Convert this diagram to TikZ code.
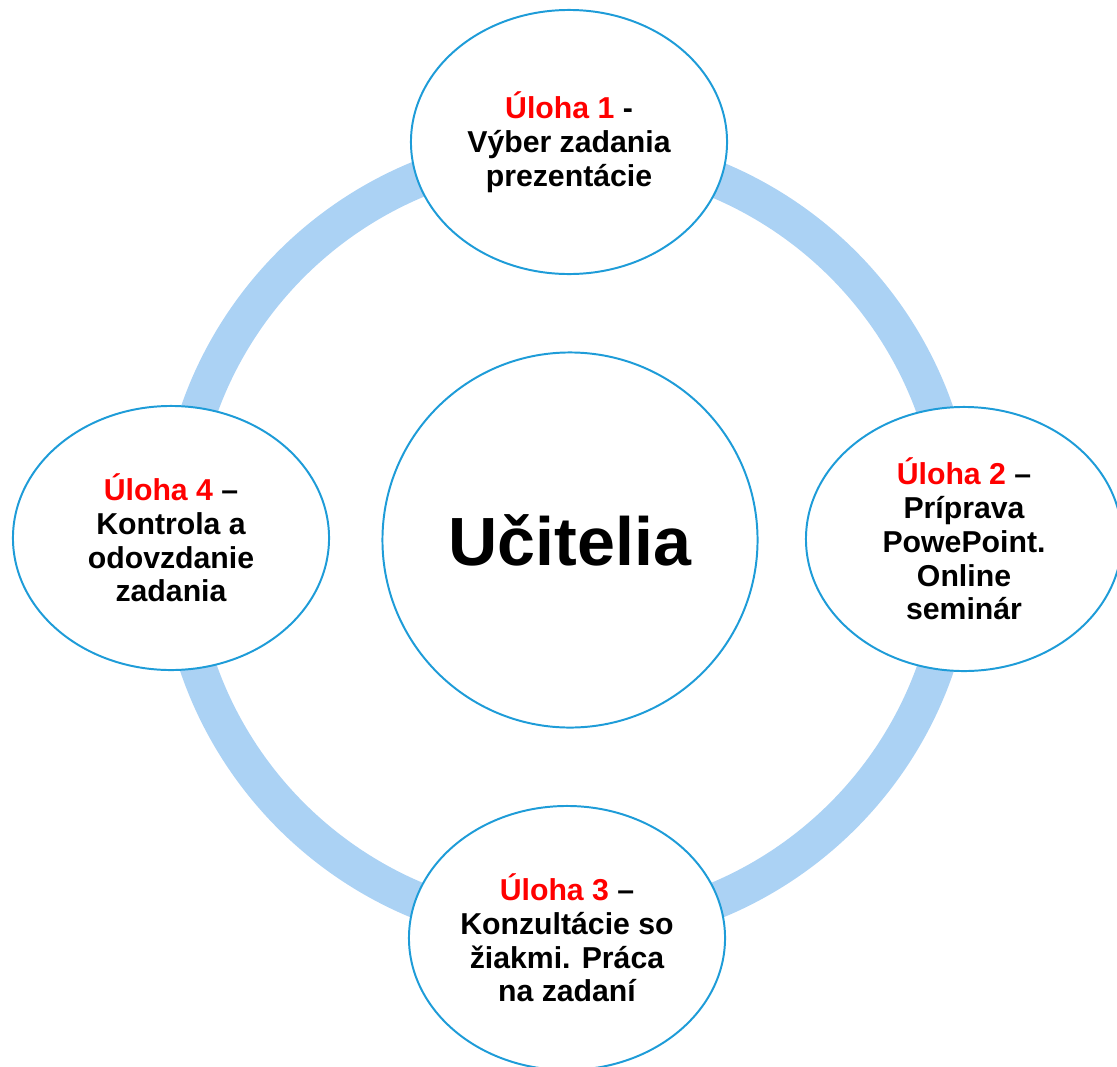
\documentclass[tikz,border=0pt]{standalone}
\usepackage{fontspec}
\setmainfont{Liberation Sans}
\usetikzlibrary{shapes.geometric}
\definecolor{ringblue}{HTML}{ABD2F4}
\definecolor{edgeblue}{HTML}{1E9CD8}
\definecolor{ulohared}{HTML}{FF0000}
\begin{document}
\begin{tikzpicture}[x=0.025cm,y=-0.025cm,
            task-node/.style={ellipse,draw=edgeblue,line width=1.4pt,fill=white,
                minimum width=7.9cm,minimum height=6.6cm,inner sep=0pt,align=center,
                font=\bfseries\fontsize{21.5}{24}\selectfont},
            core-node/.style={circle,draw=edgeblue,line width=1.4pt,fill=white,
                minimum size=9.375cm,inner sep=0pt,
                font=\bfseries\fontsize{48.5}{56}\selectfont},
            ring/.style={draw=ringblue,line width=26pt},
        ]
            \useasboundingbox (0,0) rectangle (1117,1066);
            \coordinate (m) at (567,540);
            \draw[ring] (m) circle [radius=9.75cm];
            \node[core-node] (u) at (570,540) {Učitelia};
            \node[task-node] (t1) at (569,142) {{\color{ulohared}Úloha 1} -\\Výber zadania\\prezentácie};
            \node[task-node] (t2) at (964,539) {{\color{ulohared}Úloha 2} –\\Príprava\\PowePoint.\\Online\\seminár};
            \node[task-node] (t3) at (567,938) {{\color{ulohared}Úloha 3} –\\Konzultácie so\\žiakmi. Práca\\na zadaní};
            \node[task-node] (t4) at (171,538) {{\color{ulohared}Úloha 4} –\\Kontrola a\\odovzdanie\\zadania};
        \end{tikzpicture}
\end{document}
